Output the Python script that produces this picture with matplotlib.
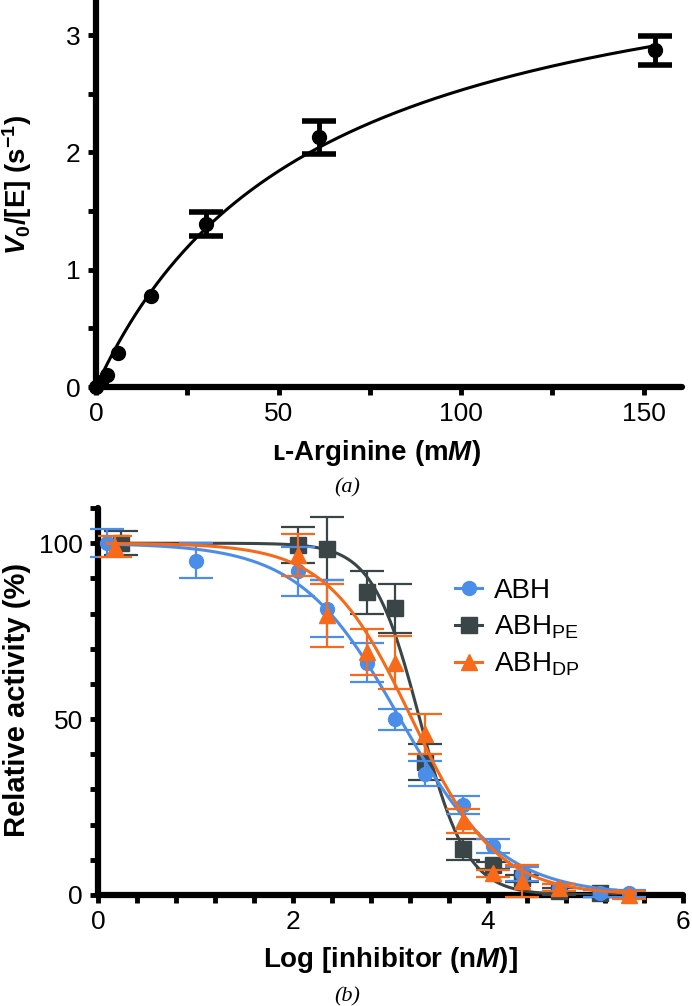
import numpy as np
import matplotlib
matplotlib.use('Agg')
import matplotlib.pyplot as plt
from matplotlib.ticker import MultipleLocator

# (a) L-arginine kinetics
arg_conc = [0, 1.5, 3, 6, 15, 30, 61, 153]
arg_rate = [0.0, 0.04, 0.1, 0.29, 0.78, 1.39, 2.13, 2.87]
arg_err = [0, 0, 0, 0, 0, 0.1, 0.14, 0.12]
vmax, km = 4.05, 60.0  # hyperbolic fit

# (b) inhibition curves
abh_x = [0.09, 1.0, 2.05, 2.35, 2.76, 3.05, 3.35, 3.74, 4.05, 4.35, 4.73, 5.15, 5.45]
abh_y = [100, 95, 92, 81.4, 66, 50, 34.5, 25.5, 14, 6, 2, 0.5, 0.5]
abh_err = [4, 5, 7, 8, 5.5, 3, 3.5, 2.5, 2, 2, 1, 1, 1]

pe_x = [0.24, 2.05, 2.35, 2.76, 3.05, 3.35, 3.74, 4.05, 4.35, 4.73, 5.15]
pe_y = [100, 99.5, 98.4, 86, 81.5, 37.8, 13, 8.5, 4.8, 1, 0.5]
pe_err = [3.5, 5, 9, 6, 7, 5, 3, 1, 1, 1, 1]

dp_x = [0.17, 2.05, 2.35, 2.76, 3.05, 3.35, 3.74, 4.05, 4.35, 4.73, 5.45]
dp_y = [99, 96.6, 79.5, 69, 66, 45.8, 21, 6.2, 4, 2, 0]
dp_err = [3, 6, 9, 6.5, 7.5, 5.7, 3.5, 1, 4.5, 1, 1]

# log IC50 and hill slope of the fitted curves
fits = {'ABH': (3.10, 0.84), 'PE': (3.30, 1.8), 'DP': (3.22, 1.0)}

blue = '#4a8eea'
gray = '#3a4547'
orange = '#f76a1a'

plt.rcParams['font.family'] = ['Liberation Sans', 'DejaVu Sans']
plt.rcParams['mathtext.fontset'] = 'custom'
plt.rcParams['mathtext.rm'] = 'Liberation Sans'
plt.rcParams['mathtext.bf'] = 'Liberation Sans:bold'
plt.rcParams['mathtext.it'] = 'Liberation Sans:italic:bold'

W, H = 692, 1006
fig = plt.figure(figsize=(W / 100, H / 100), dpi=100)


def px_axes(left, right, top, bottom):
    return fig.add_axes([left / W, 1 - bottom / H, (right - left) / W, (bottom - top) / H])


def style_axis(ax):
    for s in ['top', 'right']:
        ax.spines[s].set_visible(False)
    for s in ['left', 'bottom']:
        ax.spines[s].set_linewidth(4.5)
        ax.spines[s].set_capstyle('round')
    ax.tick_params(which='major', length=6, width=3.5, direction='out', pad=5,
                   labelsize=19, color='black')
    ax.tick_params(which='minor', length=6, width=3.5, direction='out', color='black')


# ---- panel (a) ----
ax1 = px_axes(96, 682, 0, 387)
xs = np.linspace(0, 153, 300)
ax1.plot(xs, vmax * xs / (km + xs), color='black', lw=2.2, zorder=3)
ax1.plot(arg_conc, arg_rate, 'o', color='black', ms=10, clip_on=False, zorder=4)
with_err = [i for i, e in enumerate(arg_err) if e > 0]
ax1.errorbar([arg_conc[i] for i in with_err], [arg_rate[i] for i in with_err],
             yerr=[arg_err[i] for i in with_err], fmt='none', ecolor='black',
             elinewidth=3.5, capsize=12, capthick=4, zorder=4)
ax1.set_xlim(0, 160.5)
ax1.set_ylim(0, 3.3)
ax1.xaxis.set_major_locator(MultipleLocator(50))
ax1.xaxis.set_minor_locator(MultipleLocator(25))
ax1.yaxis.set_major_locator(MultipleLocator(1))
ax1.yaxis.set_minor_locator(MultipleLocator(0.5))
style_axis(ax1)

fig.text(17 / W, 1 - 185 / H, r'$V_\mathbf{0}$/[E] (s$^\mathbf{-1}$)', rotation=90,
         ha='center', va='center', fontsize=20, fontweight='bold')
fig.text(376 / W, 1 - 453 / H, '\u029f-Arginine (m$M$)', ha='center', va='center',
         fontsize=20, fontweight='bold')
fig.text(347 / W, 1 - 488 / H, '(a)', ha='center', va='center', fontsize=16,
         family='Liberation Serif', style='italic')

# ---- panel (b) ----
ax2 = px_axes(98, 683, 508, 895)
lx = np.linspace(0.09, 5.5, 300)


def logistic(x, ic50, hill):
    return 100 / (1 + 10 ** ((x - ic50) * hill))


series = [
    ('ABH', abh_x, abh_y, abh_err, 'o', 10, blue, 4),
    ('ABH$_{\\mathrm{PE}}$', pe_x, pe_y, pe_err, 's', 11, gray, 3),
    ('ABH$_{\\mathrm{DP}}$', dp_x, dp_y, dp_err, '^', 11, orange, 5),
]
for key, (label, x, y, err, mk, ms, col, z) in zip(['ABH', 'PE', 'DP'], series):
    ax2.plot(lx, logistic(lx, *fits[key]), color=col, lw=2.2, zorder=z)
    ax2.errorbar(x, y, yerr=err, fmt=mk, color=col, ms=ms, elinewidth=1.6,
                 capsize=12, capthick=1.6, clip_on=False, zorder=z + 0.5)
    ax2.plot([], [], marker=mk, color=col, ms=ms, lw=2.2, label=label)

ax2.set_xlim(0, 6)
ax2.set_ylim(0, 110)
ax2.xaxis.set_major_locator(MultipleLocator(2))
ax2.xaxis.set_minor_locator(MultipleLocator(0.4))
ax2.yaxis.set_major_locator(MultipleLocator(50))
ax2.yaxis.set_minor_locator(MultipleLocator(10))
style_axis(ax2)

ax2.legend(loc='upper left', bbox_to_anchor=(0.586, 0.855), frameon=False, fontsize=20,
           handlelength=1.0, handletextpad=0.4, labelspacing=0.35, borderpad=0)

fig.text(17 / W, 1 - 700 / H, 'Relative activity (%)', rotation=90, ha='center',
         va='center', fontsize=21, fontweight='bold')
fig.text(390 / W, 1 - 960 / H, 'Log [inhibitor (n$M$)]', ha='center', va='center',
         fontsize=20, fontweight='bold')
fig.text(347 / W, 1 - 997 / H, '(b)', ha='center', va='center', fontsize=16,
         family='Liberation Serif', style='italic')

fig.savefig('out.png', dpi=100)
